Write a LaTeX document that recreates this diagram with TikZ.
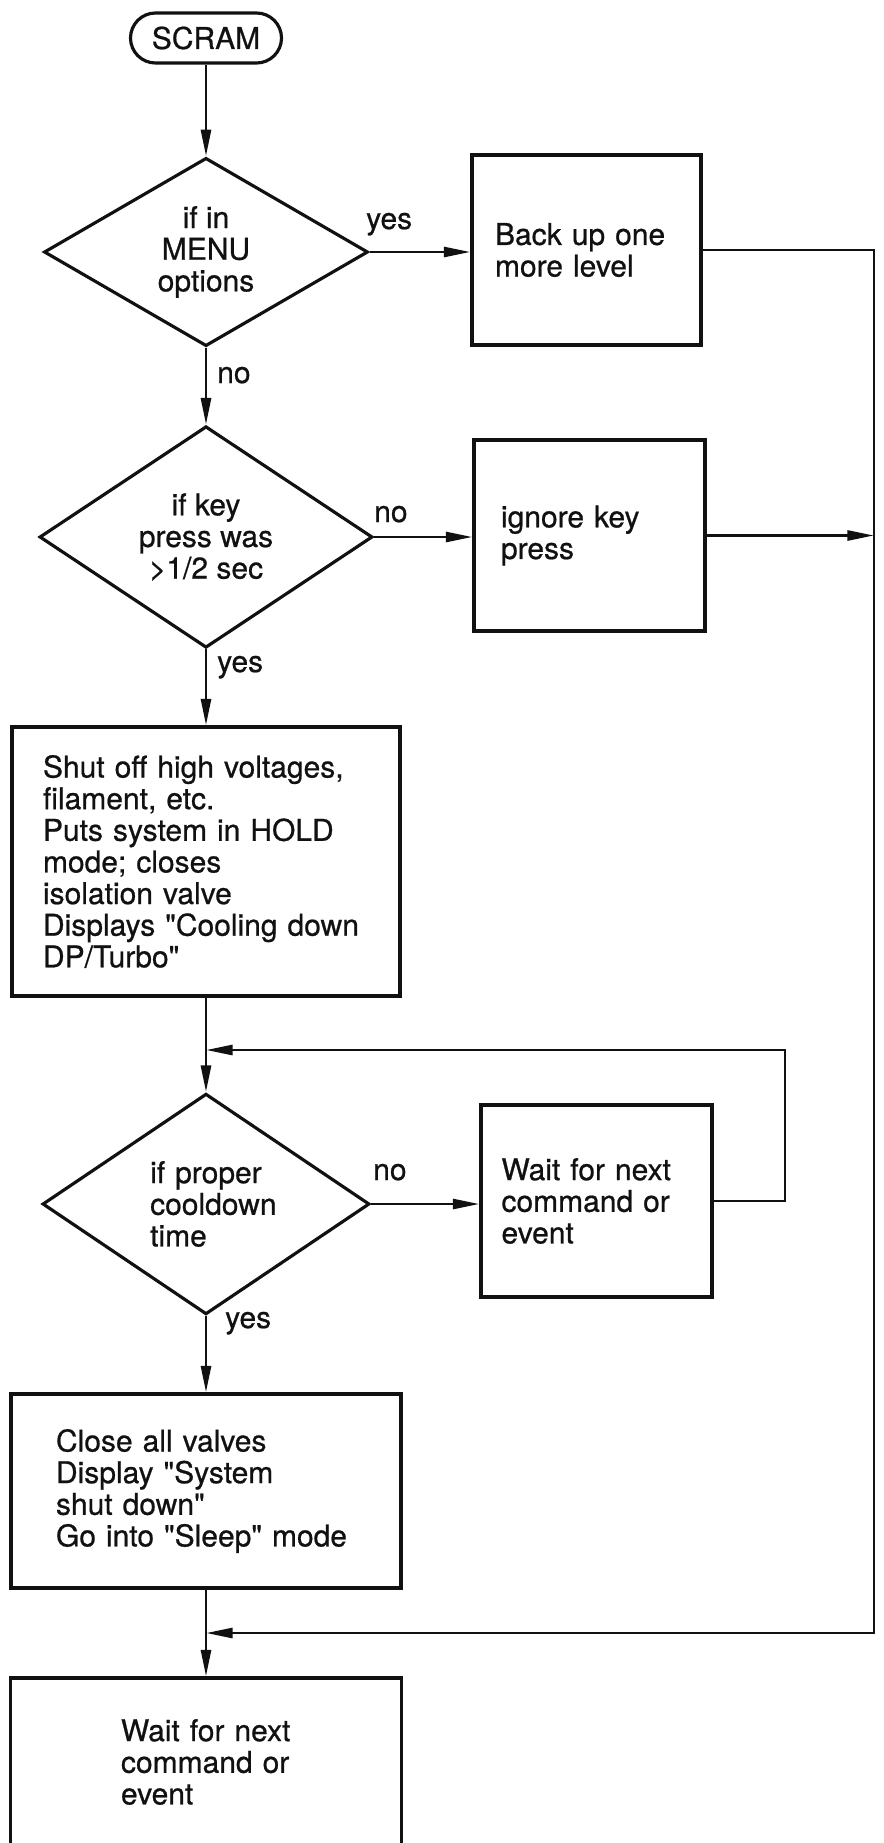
\documentclass[tikz,border=0pt]{standalone}
\usepackage{fontspec}
\setmainfont{TeX Gyre Heros}[FakeBold=0.7]
\usetikzlibrary{arrows.meta, shapes.geometric}
\definecolor{Ink}{HTML}{111111}
\tikzset{
  term/.style args={#1/#2}{
    rectangle, rounded corners=0.75cm,
    draw=Ink, text=Ink,
    minimum width=#1, minimum height=#2,
    inner sep=0pt, line width=2.7pt,
  },
  blk/.style args={#1/#2/#3}{
    rectangle, draw=Ink, text=Ink, align=left,
    minimum width=#1, minimum height=#2, text width=#3,
    inner sep=0pt, line width=2.7pt,
  },
  dec/.style args={#1/#2}{
    diamond, draw=Ink, text=Ink, align=center,
    minimum width=#1, minimum height=#2,
    inner sep=0pt, line width=2.7pt,
  },
  arr/.style={
    -{Triangle[length=0.8cm,width=0.3cm]},
    line width=2.4pt, draw=Ink,
  },
  lbl/.style={
    anchor=base west, inner sep=0pt, text=Ink,
  },
}

\begin{document}
\begin{tikzpicture}[x=0.03cm,y=-0.03cm,
    every node/.style={font=\fontsize{25.6pt}{27pt}\selectfont}]
    \useasboundingbox (0,0) rectangle (883,1843);
    \clip (0,0) rectangle (883,1843);
    \node[term=4.53cm/1.5cm] (scram) at (206,38) {SCRAM};
    \node[dec=9.72cm/5.49cm] (inmenu) at (206,252) {if in\\MENU\\options};
    \node[blk=6.87cm/5.7cm/5.49cm] (backup) at (586.5,250) {Back up one\\more level};
    \node[dec=9.99cm/5.79cm] (keylong) at (206,537) {if key\\press was\\>1/2 sec};
    \node[blk=6.93cm/5.73cm/5.31cm] (ignore) at (589.5,535.5) {ignore key\\press};
    \node[blk=11.64cm/8.07cm/9.78cm] (shutoff) at (206,861.5)
      {Shut off high voltages,\\filament, etc.\\Puts system in HOLD\\mode; closes\\isolation valve\\Displays \textquotedbl Cooling down\\DP/Turbo\textquotedbl};
    \node[dec=9.81cm/5.64cm, align=left, text width=4.05cm] (cooled) at (206,1204)
      {\hspace*{0.35cm}if proper\\\hspace*{0.35cm}cooldown\\\hspace*{0.35cm}time};
    \node[blk=6.93cm/5.76cm/5.7cm] (waitloop) at (596.5,1201) {Wait for next\\command or\\event};
    \node[blk=11.7cm/5.82cm/9.4cm] (closeall) at (206,1491)
      {\hspace*{0.2cm}Close all valves\\\hspace*{0.2cm}Display \textquotedbl System\\\hspace*{0.2cm}shut down\textquotedbl\\\hspace*{0.2cm}Go into \textquotedbl Sleep\textquotedbl\ mode\\[0.3cm]};
    \node[blk=11.73cm/5.04cm/5.1cm] (waitend) at (206,1762) {Wait for next\\command or\\event};
    \coordinate (bus) at (874,1633);  \coordinate (merge) at (206,1633);
    \coordinate (loopc) at (785,1050); \coordinate (loopj) at (206,1050);
    \node[lbl] (yesmenu) at (366,229) {yes};
    \node[lbl] (nomenu) at (217,383) {no};
    \node[lbl] (nokey) at (374,522) {no};
    \node[lbl] (yeskey) at (217,672) {yes};
    \node[lbl] (nocool) at (373,1180) {no};
    \node[lbl] (yescool) at (225,1328) {yes};
    \draw[arr] (scram)--(inmenu);
    \draw[arr] (inmenu.east)--(inmenu.east -| backup.west);
    \draw[arr] (backup.east) -| (bus) -- (merge);
    \draw[arr] (inmenu)--(keylong);
    \draw[arr] (keylong.east)--(keylong.east -| ignore.west);
    \draw[arr] (ignore.east)--(ignore.east -| bus);
    \draw[arr] (keylong)--(shutoff); \draw[arr] (shutoff)--(cooled);
    \draw[arr] (cooled.east)--(cooled.east -| waitloop.west);
    \draw[arr] (waitloop.east) -| (loopc) -- (loopj);
    \draw[arr] (cooled)--(closeall); \draw[arr] (closeall)--(waitend);
  \end{tikzpicture}
\end{document}
